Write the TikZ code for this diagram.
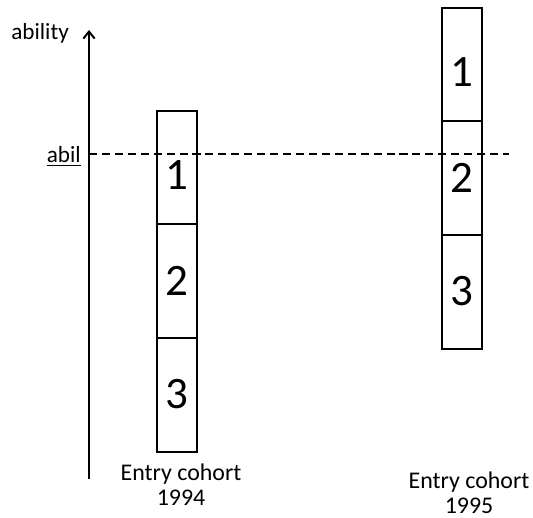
\documentclass[tikz,border=0pt]{standalone}
\usepackage{fontspec}
\setmainfont{Carlito}
\usetikzlibrary{arrows.meta, positioning}
\tikzset{
    % Box styles
    cohortbox/.style={
        rectangle,
        draw=black,
        fill=white,
        line width=1.4pt,
        minimum width=1cm,
        minimum height=2.84cm,
        inner sep=0pt,
        text height=0.7cm,
        text depth=0pt,
        font=\fontsize{32}{38}\selectfont
    },
    topbox/.style={
        cohortbox,
        text height=1.1cm
    },
    % Text styles
    axislabel/.style={
        inner sep=0pt,
        font=\fontsize{16.5}{19}\selectfont
    },
    cohortlabel/.style={
        align=center,
        inner sep=0pt,
        font=\fontsize{17}{18}\selectfont
    },
    % Line styles
    axisarrow/.style={
        -{Straight Barb[length=5pt, width=8pt]},
        line width=1.4pt,
        draw=black
    },
    threshold/.style={
        line width=1.5pt,
        draw=black,
        dash pattern=on 5.7pt off 3.5pt
    }
}
\begin{document}
\begin{tikzpicture}[x=0.025cm, y=-0.025cm]
    \useasboundingbox (0,0) rectangle (533,518);

    % Axis
    \coordinate (axisbottom) at (89,479);
    \coordinate (axistop) at (89,30);
    \draw[axisarrow] (axisbottom) -- (axistop);
    \node[axislabel, anchor=base west] (ability) at (11,40) {ability};

    % Threshold line
    \coordinate (abilstart) at (89,154);
    \coordinate (abilend) at (509,154);
    \node[axislabel, anchor=base east] (abil) at (81,163) {\underline{abil}};

    % Entry cohort 1994
    \node[topbox] (a1) at (177,167.5) {1};
    \node[cohortbox, below=-1.4pt of a1] (a2) {2};
    \node[cohortbox, below=-1.4pt of a2] (a3) {3};
    \node[cohortlabel] (cohortA) at (181,484.5) {Entry cohort\\1994};

    % Entry cohort 1995
    \node[topbox] (b1) at (462,64.5) {1};
    \node[cohortbox, below=-1.4pt of b1] (b2) {2};
    \node[cohortbox, below=-1.4pt of b2] (b3) {3};
    \node[cohortlabel] (cohortB) at (469,492.5) {Entry cohort\\1995};

    % Threshold over the boxes
    \draw[threshold] (abilstart) -- (abilend);
\end{tikzpicture}
\end{document}
